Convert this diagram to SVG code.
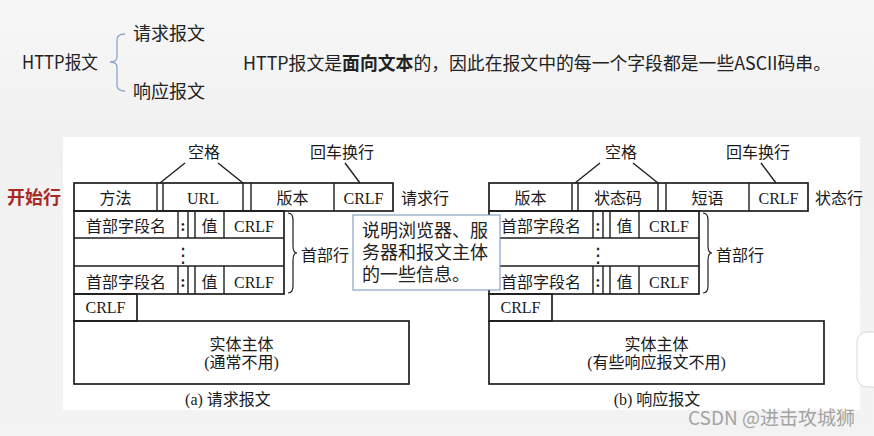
<svg xmlns="http://www.w3.org/2000/svg" width="874" height="436" viewBox="0 0 874 436">
<defs>
<linearGradient id="bg" x1="0" y1="0" x2="0" y2="1">
<stop offset="0" stop-color="#f7f7f7"/>
<stop offset="0.3" stop-color="#f1f1f1"/>
<stop offset="1" stop-color="#f3f3f3"/>
</linearGradient>
<style>
.top{font-family:"Noto Sans CJK SC","Liberation Sans",sans-serif;font-size:18px;fill:#222}
.d{font-family:"Liberation Serif","Noto Sans CJK SC",serif;font-size:16px;fill:#1a1a1a}
.c{text-anchor:middle}
.box{fill:none;stroke:#1e1e1e;stroke-width:1.7}
.ln{stroke:#1e1e1e;stroke-width:1.4;fill:none}
.br{stroke:#1e1e1e;stroke-width:1.2;fill:none}
.tip{font-family:"Noto Sans CJK SC",sans-serif;font-size:18px;fill:#222}
</style>
</defs>
<rect x="0" y="0" width="874" height="436" fill="url(#bg)"/>
<rect x="63" y="137" width="797" height="273" fill="#ffffff"/>

<g id="title">
<text class="top" x="22" y="69" textLength="76" lengthAdjust="spacingAndGlyphs">HTTP报文</text>
<path d="M125,34 Q117,34 117,40 L117,57 Q117,62 110,62 Q117,62 117,67 L117,85 Q117,91 125,91" fill="none" stroke="#8aa6c8" stroke-width="1.3"/>
<text class="top" x="133" y="40">请求报文</text>
<text class="top" x="133" y="98">响应报文</text>
<text class="top" x="243" y="70" textLength="588" lengthAdjust="spacingAndGlyphs">HTTP报文是<tspan font-weight="bold">面向文本</tspan>的，因此在报文中的每一个字段都是一些ASCII码串。</text>
</g>

<text x="7" y="204" font-family="Noto Sans CJK SC,sans-serif" font-size="18" font-weight="bold" fill="#a82a24">开始行</text>

<g id="request">
<rect class="box" x="74" y="183" width="319" height="28"/>
<path class="ln" d="M157,183V211M163,183V211M243,183V211M251,183V211M334,183V211"/>
<text class="d c" x="115.5" y="204">方法</text>
<text class="d c" x="203" y="204">URL</text>
<text class="d c" x="292.5" y="204">版本</text>
<text class="d c" x="363.5" y="204">CRLF</text>
<text class="d" x="188" y="158">空格</text>
<text class="d" x="310" y="158">回车换行</text>
<path class="ln" d="M185,163L160,183M218,163L243,183M345,163L360,183"/>
<text class="d" x="401" y="204">请求行</text>

<rect class="box" x="74" y="211" width="210" height="83"/>
<path class="ln" d="M74,238H284M74,266H284M178,211V238M188,211V238M195,211V238M224,211V238M178,266V294M188,266V294M195,266V294M224,266V294"/>
<text class="d c" x="126" y="232">首部字段名</text>
<text class="d c" x="183" y="231" font-weight="bold">:</text>
<text class="d c" x="209.5" y="232">值</text>
<text class="d c" x="254" y="232">CRLF</text>
<text class="c" x="183" y="262" font-family="DejaVu Sans,sans-serif" font-size="20" fill="#1a1a1a">⋮</text>
<text class="d c" x="126" y="288">首部字段名</text>
<text class="d c" x="183" y="287" font-weight="bold">:</text>
<text class="d c" x="209.5" y="288">值</text>
<text class="d c" x="254" y="288">CRLF</text>
<path class="br" d="M288,213Q293,213 293,220L293,246Q293,253 297,253Q293,253 293,260L293,286Q293,293 288,293"/>
<text class="d" x="301" y="261">首部行</text>

<rect class="box" x="74" y="294" width="63" height="27"/>
<text class="d c" x="105.5" y="313">CRLF</text>
<rect class="box" x="74" y="321" width="335" height="63"/>
<text class="d c" x="241.5" y="350">实体主体</text>
<text class="d c" x="241.5" y="368">(通常不用)</text>
<text class="d c" x="228" y="405">(a) 请求报文</text>
</g>

<g id="response">
<rect class="box" x="489" y="183" width="319" height="28"/>
<path class="ln" d="M572,183V211M578,183V211M658,183V211M666,183V211M749,183V211"/>
<text class="d c" x="530.5" y="204">版本</text>
<text class="d c" x="618" y="204">状态码</text>
<text class="d c" x="707.5" y="204">短语</text>
<text class="d c" x="778.5" y="204">CRLF</text>
<text class="d" x="605" y="158">空格</text>
<text class="d" x="726" y="158">回车换行</text>
<path class="ln" d="M600,163L575,183M633,163L658,183M761,163L776,183"/>
<text class="d" x="815" y="204">状态行</text>

<rect class="box" x="489" y="211" width="210" height="83"/>
<path class="ln" d="M489,238H699M489,266H699M593,211V238M603,211V238M610,211V238M639,211V238M593,266V294M603,266V294M610,266V294M639,266V294"/>
<text class="d c" x="541" y="232">首部字段名</text>
<text class="d c" x="598" y="231" font-weight="bold">:</text>
<text class="d c" x="624.5" y="232">值</text>
<text class="d c" x="669" y="232">CRLF</text>
<text class="c" x="598" y="262" font-family="DejaVu Sans,sans-serif" font-size="20" fill="#1a1a1a">⋮</text>
<text class="d c" x="541" y="288">首部字段名</text>
<text class="d c" x="598" y="287" font-weight="bold">:</text>
<text class="d c" x="624.5" y="288">值</text>
<text class="d c" x="669" y="288">CRLF</text>
<path class="br" d="M703,213Q708,213 708,220L708,246Q708,253 712,253Q708,253 708,260L708,286Q708,293 703,293"/>
<text class="d" x="716" y="261">首部行</text>

<rect class="box" x="489" y="294" width="63" height="27"/>
<text class="d c" x="520.5" y="313">CRLF</text>
<rect class="box" x="489" y="321" width="335" height="63"/>
<text class="d c" x="656.5" y="350">实体主体</text>
<text class="d c" x="656.5" y="368">(有些响应报文不用)</text>
<text class="d c" x="657" y="405">(b) 响应报文</text>
</g>

<g id="tooltip">
<rect x="353" y="215" width="147" height="75" fill="#ffffff" stroke="#7391b8" stroke-width="1"/>
<text class="tip" x="362" y="237">说明浏览器、服</text>
<text class="tip" x="362" y="259">务器和报文主体</text>
<text class="tip" x="362" y="281">的一些信息。</text>
</g>

<rect x="857" y="332" width="30" height="55" rx="10" fill="#ffffff" stroke="#d8d8d8" stroke-width="1"/>
<text x="688" y="425" font-family="Noto Sans CJK SC,sans-serif" font-size="19" fill="#a3a3a3">CSDN @进击攻城狮</text>
</svg>
